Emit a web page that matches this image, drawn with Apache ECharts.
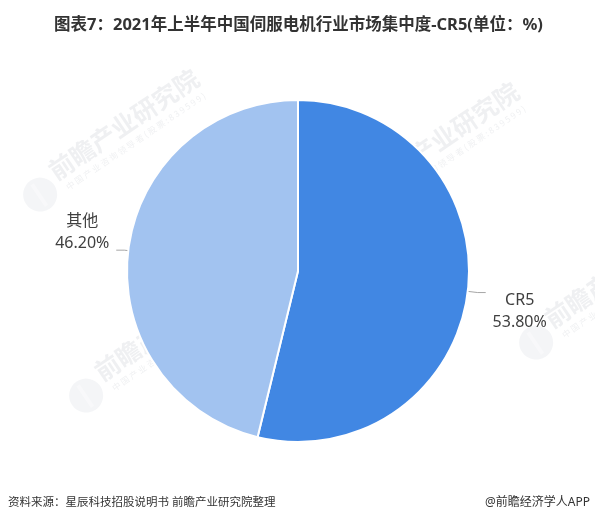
<!DOCTYPE html>
<html>
<head>
<meta charset="utf-8">
<script src="https://cdn.jsdelivr.net/npm/echarts@6/dist/echarts.min.js"></script>
<style>html,body{margin:0;padding:0;background:#fff}#c{width:595px;height:524px}</style>
</head>
<body>
<div id="c"></div>
<script>
var categories = ['CR5', '其他'];
var values = [53.80, 46.20];
var colors = ['#4187E3', '#A2C3F0'];
var titleText = '图表7：2021年上半年中国伺服电机行业市场集中度-CR5(单位：%)';
var sourceText = '资料来源：星辰科技招股说明书 前瞻产业研究院整理';
var brandText = '@前瞻经济学人APP';

var FONT = '"Noto Sans", "Noto Sans CJK SC", sans-serif';
var wmFill = 'rgba(120,130,150,0.12)';
var wmLogo = 'rgba(120,130,150,0.08)';
function watermark(x, y) {
  return {
    type: 'group', x: x, y: y, rotation: 34 * Math.PI / 180, z: 100, silent: true,
    children: [
      { type: 'circle', shape: { cx: -21, cy: 1, r: 17 }, style: { fill: wmLogo } },
      { type: 'rect', shape: { x: -24, y: -12, width: 4, height: 26 }, style: { fill: 'rgba(255,255,255,0.35)' } },
      { type: 'text', style: { text: '前瞻产业研究院', x: 0, y: 2, fontSize: 25, fontWeight: 'bold', fontFamily: '"Noto Sans CJK SC"', fill: wmFill, verticalAlign: 'bottom' } },
      { type: 'text', style: { text: '中 国 产 业 咨 询 领 导 者 ( 股 票 : 8 3 9 5 9 9 )', x: 5, y: 6, fontSize: 8.5, fontFamily: '"Noto Sans CJK SC"', fill: wmFill, verticalAlign: 'top' } }
    ]
  };
}

var labelPadding = [[38, 0, 0, 0], [0, 0, 36, 0]];
var lineLen = [[10, 8], [4, 8]];

var chart = echarts.init(document.getElementById('c'));
chart.setOption({
  backgroundColor: '#fff',
  animation: false,
  title: {
    text: titleText, left: 49, top: 12,
    textStyle: { fontSize: 16.5, fontWeight: 'bold', color: '#333', fontFamily: FONT }
  },
  graphic: [
    { type: 'text', left: 8, top: 497, style: { text: sourceText, fontSize: 11.5, fill: '#333', fontFamily: FONT } },
    { type: 'text', right: 5, top: 497, style: { text: brandText, fontSize: 12, fill: '#333', fontFamily: FONT } },
    watermark(57, 182),
    watermark(377, 195),
    watermark(103, 383),
    watermark(553, 330)
  ],
  series: [{
    type: 'pie',
    center: [298, 271],
    radius: 171,
    startAngle: 90,
    clockwise: true,
    avoidLabelOverlap: false,
    itemStyle: { borderColor: '#fff', borderWidth: 2 },
    label: {
      show: true,
      position: 'outside',
      distanceToLabelLine: 4,
      color: '#404040',
      fontFamily: FONT,
      formatter: function (p) {
        return '{a|' + p.name + '}\n{a|' + p.value.toFixed(2) + '%}';
      },
      rich: { a: { width: 60, align: 'center', fontSize: 16, lineHeight: 22, color: '#404040', fontFamily: FONT } }
    },
    labelLine: { show: true, lineStyle: { color: '#A6A6A6', width: 1 } },
    data: categories.map(function (c, i) {
      return {
        name: c, value: values[i],
        itemStyle: { color: colors[i] },
        label: { padding: labelPadding[i] },
        labelLine: { length: lineLen[i][0], length2: lineLen[i][1] }
      };
    })
  }]
});
</script>
</body>
</html>
